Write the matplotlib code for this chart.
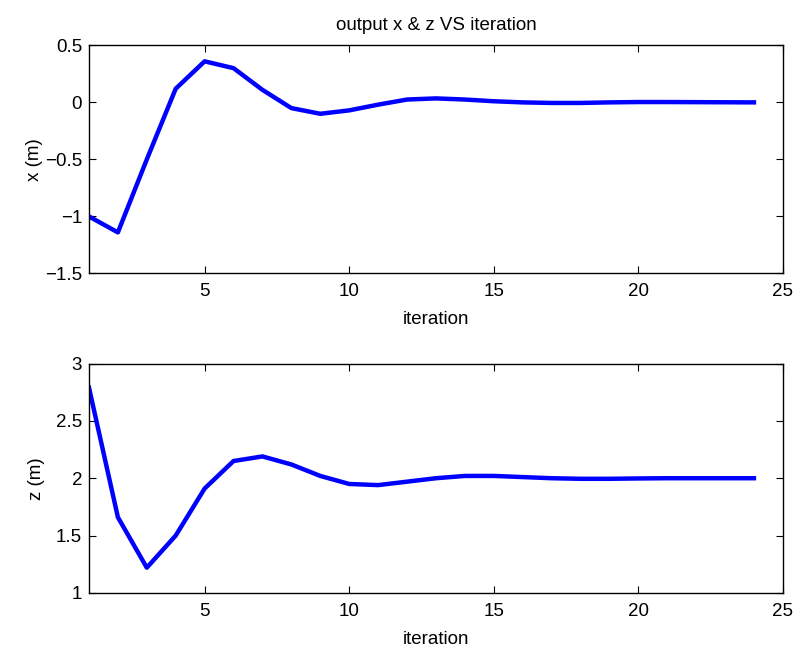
import matplotlib
matplotlib.use("Agg")
import matplotlib.pyplot as plt

plt.rcParams["font.family"] = ["Liberation Sans", "DejaVu Sans"]

# Iteration index and the two output responses
iteration = list(range(1, 25))
x_out = [-1.0, -1.14, -0.5, 0.12, 0.36, 0.30, 0.11, -0.05, -0.10, -0.07,
         -0.02, 0.025, 0.035, 0.025, 0.01, 0.0, -0.005, -0.005, 0.0, 0.003,
         0.003, 0.002, 0.001, 0.0]
z_out = [2.79, 1.66, 1.22, 1.50, 1.91, 2.15, 2.19, 2.12, 2.02, 1.95,
         1.94, 1.97, 2.0, 2.02, 2.02, 2.01, 2.0, 1.995, 1.995, 1.998,
         2.0, 2.0, 2.0, 2.0]

x_ticks = [5, 10, 15, 20, 25]
x_yticks = [-1.5, -1, -0.5, 0, 0.5]
z_yticks = [1, 1.5, 2, 2.5, 3]

FS = 13.5

fig = plt.figure(figsize=(7.98, 6.48), dpi=100)
ax1 = fig.add_axes([0.1115, 0.578, 0.8695, 0.352])
ax2 = fig.add_axes([0.1115, 0.085, 0.8695, 0.354])


def style(ax):
    ax.set_xlim(1, 25)
    ax.set_xticks(x_ticks)
    ax.tick_params(direction="in", top=True, right=True, length=5,
                   width=0.8, labelsize=FS)
    ax.tick_params(axis="x", pad=7)
    ax.tick_params(axis="y", pad=5)
    for s in ax.spines.values():
        s.set_linewidth(1.0)
    ax.set_xlabel("iteration", fontsize=FS, labelpad=8)


ax1.plot(iteration, x_out, color="#0000ff", linewidth=3.2)
ax1.set_ylim(-1.5, 0.5)
ax1.set_yticks(x_yticks)
ax1.set_yticklabels(["\u22121.5", "\u22121", "\u22120.5", "0", "0.5"])
ax1.set_ylabel("x (m)", fontsize=FS, labelpad=1)
ax1.set_title("output x & z VS iteration", fontsize=FS, pad=11)
style(ax1)

ax2.plot(iteration, z_out, color="#0000ff", linewidth=3.2)
ax2.set_ylim(1, 3)
ax2.set_yticks(z_yticks)
ax2.set_yticklabels(["1", "1.5", "2", "2.5", "3"])
ax2.set_ylabel("z (m)", fontsize=FS, labelpad=8)
style(ax2)

fig.savefig("out.png", dpi=100)
